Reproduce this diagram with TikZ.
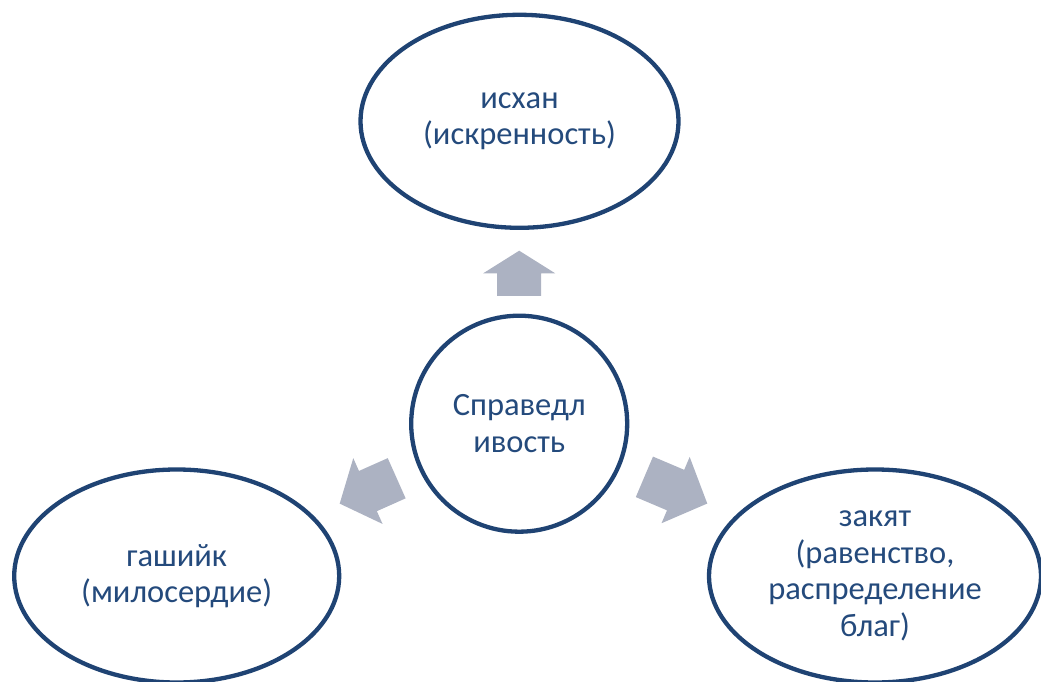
\documentclass[tikz,border=0pt]{standalone}
\usepackage{fontspec}
\setmainfont{Carlito}
\usetikzlibrary{shapes.geometric}
\definecolor{outl}{HTML}{1F4373}
\definecolor{txt}{HTML}{244A7C}
\definecolor{arrfill}{HTML}{ACB2C2}
\tikzset{
  bubble/.style={ellipse, draw=outl, line width=4.3pt, fill=white, inner sep=0pt,
    text=txt, align=center, font=\fontsize{32.5}{36.5}\selectfont},
  hub/.style={circle, draw=outl, line width=4.3pt, fill=white, inner sep=0pt,
    minimum size=216pt, text=txt, align=center, font=\fontsize{32.5}{36.5}\selectfont},
  arrowfill/.style={fill=arrfill}
}
\newcommand\bArrow[4]{%
  \fill[arrowfill, shift={(c.center)}, rotate=#1]
    (#2,-22) -- (#3,-22) -- (#3,-36) -- (#4,0) -- (#3,36) -- (#3,22) -- (#2,22) -- cycle;}
\begin{document}
\begin{tikzpicture}[x=1pt,y=1pt]
\useasboundingbox (0,0) rectangle (1041,681);
\node[hub] (c) at (519.2,257.3) {Справедл\\ивость};
\node[bubble, minimum width=318pt, minimum height=213pt] (t) at (519.5,559.7) {исхан\\(искренность)};
\node[bubble, minimum width=325pt, minimum height=213pt] (l) at (176.7,105) {гашийк\\(милосердие)};
\node[bubble, minimum width=332pt, minimum height=213pt] (r) at (875,105) {закят\\(равенство,\\распределение\\благ)};
\bArrow{90}{127.7}{150.4}{173}
\bArrow{204}{134.1}{165.6}{196.5}
\bArrow{-23}{136}{169.9}{204.3}
\end{tikzpicture}
\end{document}
